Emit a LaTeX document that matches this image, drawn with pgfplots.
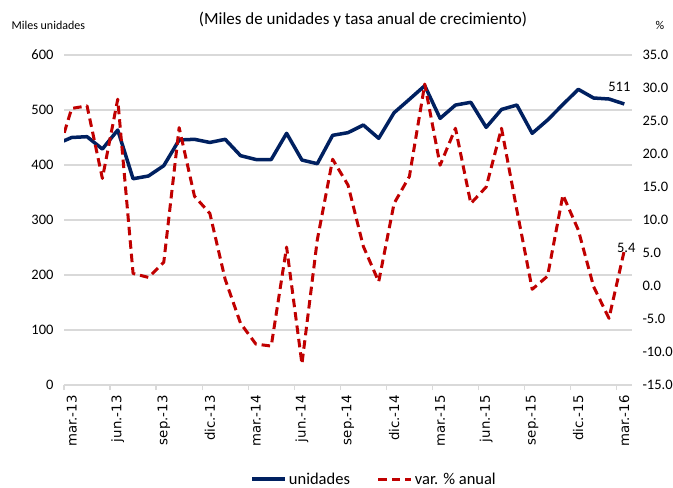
\documentclass[border=0pt]{standalone}
\usepackage{pgfplots}
\usepackage{pgfplotstable}
\pgfplotsset{compat=1.18}
\usepackage{fontspec}
\setmainfont{Carlito}
\newfontfamily\dejavu{DejaVu Sans}
\definecolor{navy}{RGB}{0,32,96}
\definecolor{dred}{RGB}{192,0,0}
\definecolor{gridc}{RGB}{217,217,217}

\pgfplotstableread{
i u v
-1 438 19.3
0 450 26.9
1 451.5 27.3
2 429 16.3
3 463.6 28.3
4 375 1.9
5 380 1.3
6 398.8 3.6
7 445.5 24.0
8 446.7 13.6
9 441 11.0
10 446.7 1.0
11 417 -5.65
12 410 -8.8
13 410 -9.1
14 457.6 5.9
15 409 -11.8
16 402.4 7.0
17 454 19.2
18 458.8 15.3
19 472.7 6.0
20 448.5 0.65
21 495 12.5
22 519.4 16.6
23 544.2 30.6
24 484.8 18.3
25 509 23.9
26 514 12.5
27 468.5 15.0
28 501 23.9
29 509 11.5
30 457.6 -0.5
31 481.8 1.5
32 510 13.8
33 537.6 8.5
34 521.8 -0.1
35 520 -4.9
36 511 5.4
}\data

\begin{document}
\begin{tikzpicture}
\useasboundingbox (0,0) rectangle (673bp,488bp);
\pgfplotsset{
  common/.style={
    at={(64bp,103bp)}, anchor=south west, scale only axis,
    width=568bp, height=330bp,
    xmin=-0.5, xmax=36.5,
    axis line style={draw=none},
    clip mode=individual,
    /pgf/number format/assume math mode=true,
  }
}
\begin{axis}[common,
  ymin=0, ymax=600, ytick={0,100,...,600},
  ymajorgrids, grid style={gridc, line width=1.3bp},
  ytick pos=left, major tick length=0pt,
  yticklabel style={font=\fontsize{14.5bp}{17bp}\selectfont},
  yticklabel shift=7bp,
  xtick={0,3,...,36},
  xticklabels={mar.-13,jun.-13,sep.-13,dic.-13,mar.-14,jun.-14,sep.-14,dic.-14,mar.-15,jun.-15,sep.-15,dic.-15,mar.-16},
  xtick pos=bottom,
  xticklabel style={rotate=90, anchor=east, font=\dejavu\fontsize{13.3bp}{15bp}\selectfont},
  xticklabel shift=7bp,
  extra x ticks={-0.5,2.5,...,35.5}, extra x tick labels={},
  extra x tick style={major tick length=5bp, tick align=outside, tick style={gridc, line width=1.3bp}, grid=none},
]
\addplot[navy, line width=3.5bp, line join=round] table[x=i,y=u]{\data};
\node[anchor=south, font=\fontsize{14.5bp}{17bp}\selectfont, xshift=-5bp, yshift=9bp] at (axis cs:36,511) {511};
\end{axis}
\begin{axis}[common,
  ymin=-15, ymax=35, ytick={-15,-10,...,35},
  hide x axis,
  ytick pos=right, yticklabel pos=right, major tick length=0pt,
  yticklabel style={font=\fontsize{14.5bp}{17bp}\selectfont, anchor=west, /pgf/number format/.cd, fixed, fixed zerofill, precision=1},
  yticklabel shift=7bp,
  legend style={at={(0.546,-0.285)}, anchor=center, draw=none, fill=none,
    font=\fontsize{16.5bp}{19bp}\selectfont, legend columns=2,
    /tikz/every even column/.append style={column sep=25bp}},
  legend image code/.code={\draw[#1] (0bp,0bp) -- (33bp,0bp);},
]
\addlegendimage{navy, line width=3.5bp}
\addlegendentry{unidades}
\addplot[dred, line width=3bp, dash pattern=on 8.5bp off 5bp, line join=round] table[x=i,y=v]{\data};
\addlegendentry{var. \% anual}
\node[anchor=south, font=\fontsize{14.5bp}{17bp}\selectfont, xshift=2bp, yshift=-6bp] at (axis cs:36,5.4) {5.4};
\end{axis}
\node at (363bp,468bp) {\fontsize{17bp}{20bp}\selectfont (Miles de unidades y tasa anual de crecimiento)};
\node[anchor=west] at (8bp,463bp) {\fontsize{12bp}{14bp}\selectfont Miles unidades};
\node at (660bp,463bp) {\fontsize{12bp}{14bp}\selectfont \%};
\end{tikzpicture}
\end{document}
